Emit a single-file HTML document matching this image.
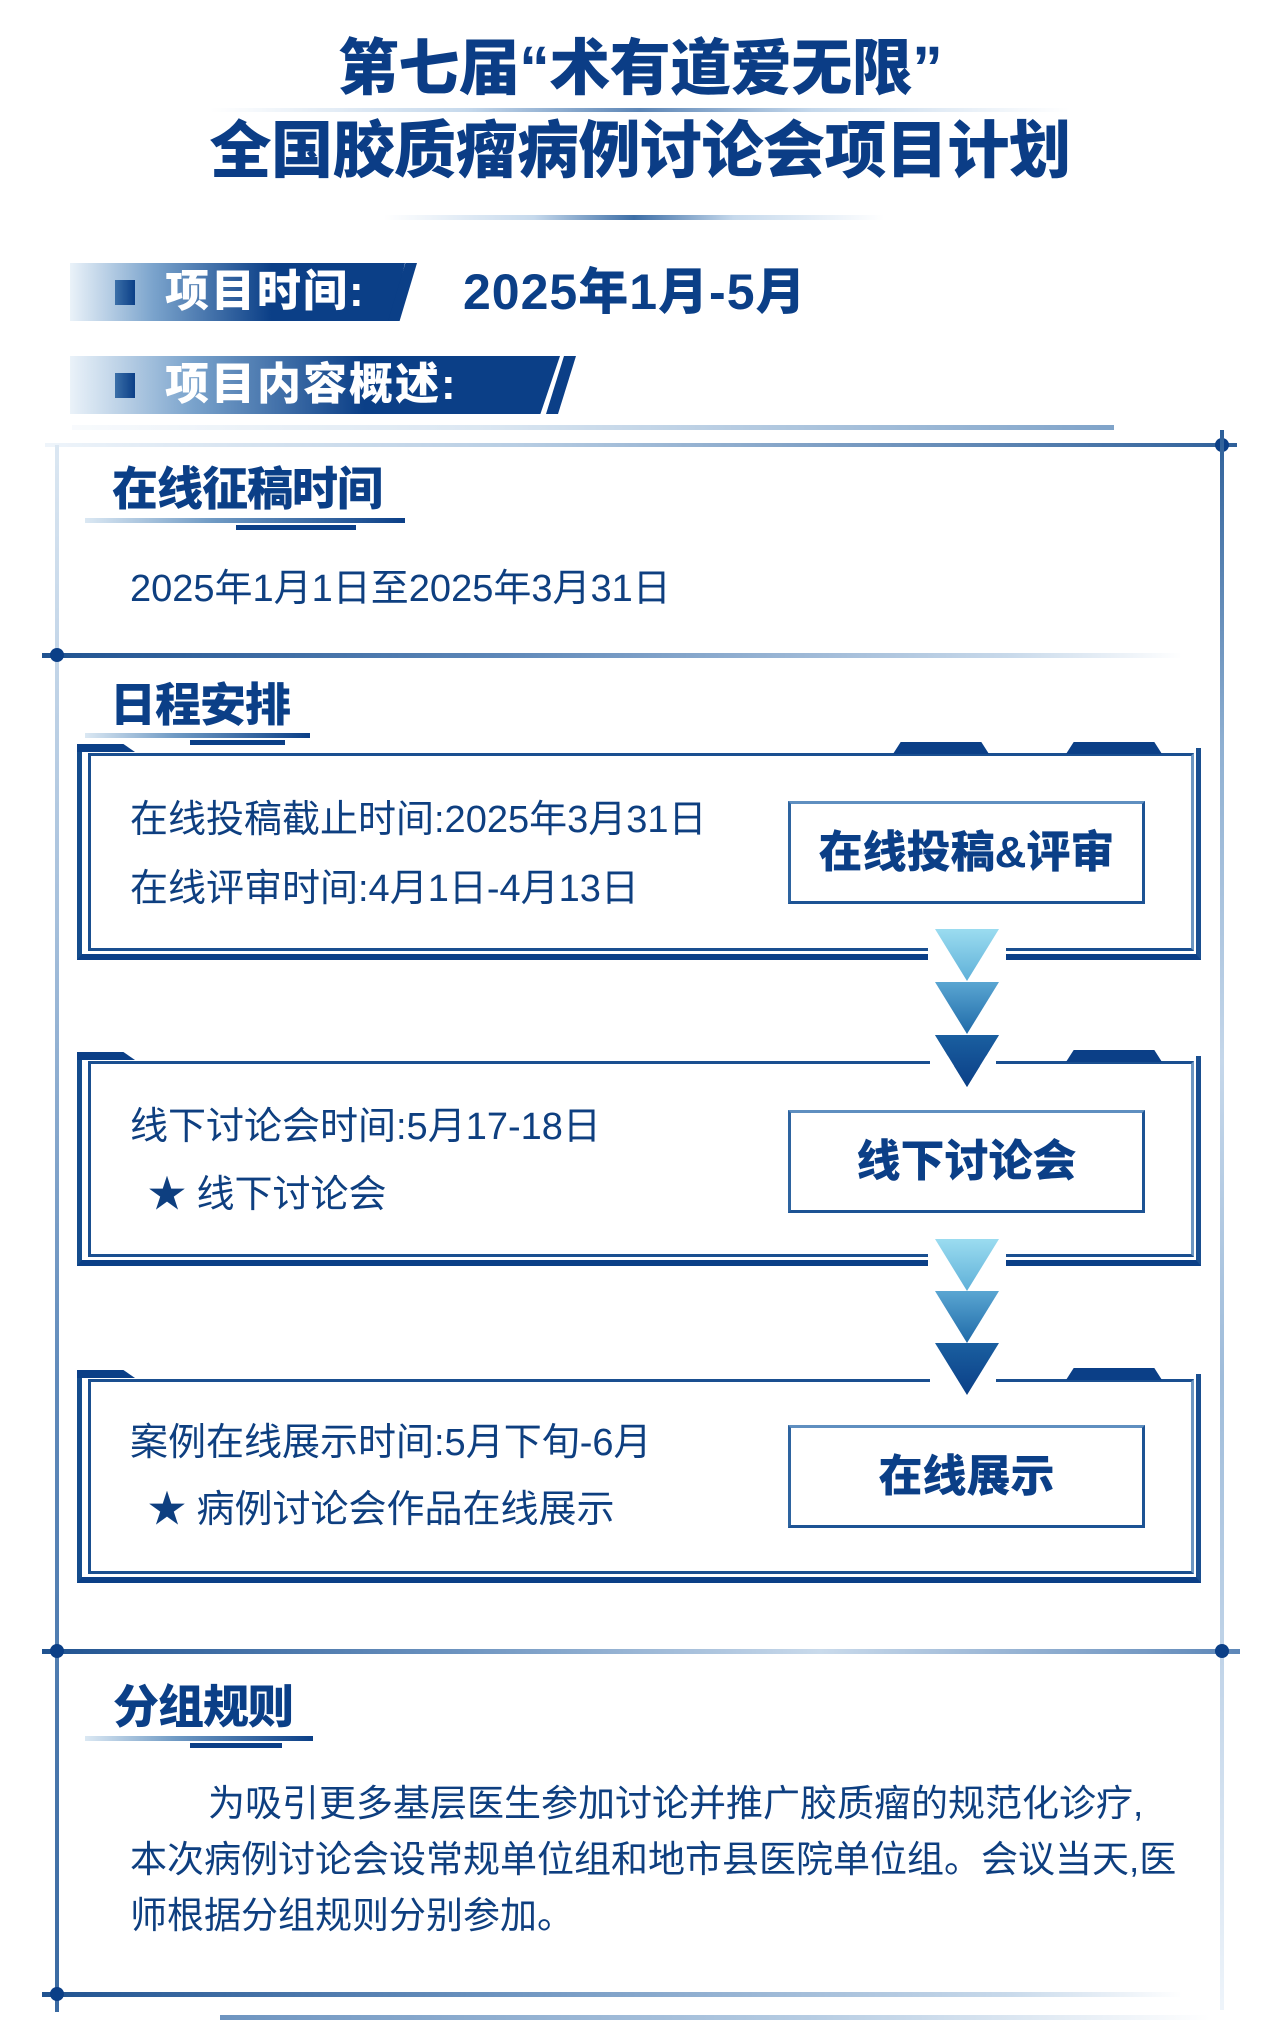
<!DOCTYPE html>
<html><head><meta charset="utf-8">
<style>
*{margin:0;padding:0;box-sizing:border-box}
html,body{width:1280px;height:2041px;background:#fff;overflow:hidden}
body{position:relative;font-family:"Liberation Sans","Noto Sans CJK SC",sans-serif;color:#0d3f82}
.a{position:absolute}
.t{white-space:nowrap;line-height:1}
.title{left:0;width:1280px;text-align:center;font-weight:900;font-size:61px;color:#0b3d86;letter-spacing:-0.5px}
.ban{height:58px;background:linear-gradient(90deg,#eaf2f9 0%,#7aa3cc 25%,#0b3f87 60%,#0b3f87 100%)}
.sq{width:20px;height:25px;background:linear-gradient(90deg,#3b6fa8,#0b3f87)}
.bt{color:#fff;font-weight:900;font-size:44px;letter-spacing:2px}
.h2{font-weight:900;font-size:46px;color:#0b3f87;letter-spacing:-1px}
.ul1{height:5px;background:linear-gradient(90deg,#dbe8f3,#6f9ac4 40%,#0b3f87)}
.ul2{height:5px;background:#0b3f87}
.body{font-size:38px;color:#0e3f80}
.frameO{border-left:5px solid #144c8c;border-bottom:6px solid #0b3f87;border-right:5px solid #1a4f90}
.frameI{border:3px solid #1a4f90;border-right-color:#6d97c2}
.tab{height:12px;background:#0b3f87;clip-path:polygon(8% 0,92% 0,100% 100%,0 100%)}
.lab{border:3px solid #1d5394;border-top-color:#5f8fc0;border-left-color:#2e64a0;background:#fff}
.labt{font-weight:900;font-size:44px;color:#0b3f87;text-align:center;width:100%;top:50%;transform:translateY(-50%)}
.tri{width:64px;height:52px;clip-path:polygon(0 0,100% 0,50% 100%)}
.dot{width:14px;height:14px;border-radius:50%;background:#0b3f87}
</style></head><body>

<!-- Title -->
<div class="a t title" style="top:38px">第七届“术有道爱无限”</div>
<div class="a" style="left:210px;top:108px;width:860px;height:4px;background:linear-gradient(90deg,rgba(200,220,240,0),#c6d9ec 30%,#5d86b6 50%,#c6d9ec 70%,rgba(200,220,240,0))"></div>
<div class="a t title" style="top:121px;font-size:62px">全国胶质瘤病例讨论会项目计划</div>
<div class="a" style="left:384px;top:215px;width:500px;height:5px;background:linear-gradient(90deg,rgba(200,220,240,0),#c6d9ec 30%,#3d6ea6 50%,#c6d9ec 70%,rgba(200,220,240,0))"></div>

<!-- Banner 1 -->
<div class="a ban" style="left:70px;top:263px;width:335px;clip-path:polygon(0 0,100% 0,96% 100%,0 100%)"></div>
<div class="a" style="left:388px;top:263px;width:29px;height:58px;background:#0b3f87;clip-path:polygon(60% 0,100% 0,40% 100%,0 100%)"></div>
<div class="a sq" style="left:115px;top:280px"></div>
<div class="a t bt" style="left:165px;top:270px">项目时间:</div>
<div class="a t" style="left:463px;top:267px;font-size:50px;font-weight:900;color:#0b3f87;letter-spacing:1px">2025年1月-5月</div>

<!-- Banner 2 -->
<div class="a ban" style="left:70px;top:356px;width:490px;clip-path:polygon(0 0,100% 0,96% 100%,0 100%)"></div>
<div class="a" style="left:546px;top:356px;width:30px;height:58px;background:#0b3f87;clip-path:polygon(60% 0,100% 0,40% 100%,0 100%)"></div>
<div class="a sq" style="left:115px;top:373px"></div>
<div class="a t bt" style="left:165px;top:363px">项目内容概述:</div>

<!-- lines -->
<div class="a" style="left:72px;top:425px;width:1042px;height:5px;background:linear-gradient(90deg,rgba(220,232,244,0.2),#dbe7f2 40%,#7fa3c9)"></div>
<div class="a" style="left:45px;top:443px;width:1192px;height:4px;background:linear-gradient(90deg,rgba(200,220,240,0.3),#b7cde3 40%,#2f609a)"></div>
<div class="a dot" style="left:1215px;top:438px"></div>
<div class="a" style="left:1220px;top:430px;width:4px;height:1580px;background:linear-gradient(180deg,#2d5f99,#8fb0d2 20%,#c5d7ea 40%,#9fbcda 60%,#c5d7ea 80%,rgba(200,220,240,0.3))"></div>
<div class="a" style="left:55px;top:445px;width:4px;height:1567px;background:linear-gradient(180deg,#dbe7f2,#a6c0dc 30%,#5f8abb 60%,#3a6aa2)"></div>

<!-- 在线征稿时间 -->
<div class="a t h2" style="left:112px;top:466px">在线征稿时间</div>
<div class="a ul1" style="left:85px;top:518px;width:320px"></div>
<div class="a ul2" style="left:236px;top:525px;width:120px"></div>
<div class="a t body" style="left:130px;top:570px">2025年1月1日至2025年3月31日</div>

<div class="a" style="left:42px;top:653px;width:1140px;height:5px;background:linear-gradient(90deg,#1f5290,#5d87b8 40%,#c9daeb 85%,rgba(220,232,244,0))"></div>
<div class="a dot" style="left:50px;top:648px"></div>

<!-- 日程安排 -->
<div class="a t h2" style="left:110px;top:682px">日程安排</div>
<div class="a ul1" style="left:85px;top:733px;width:225px"></div>
<div class="a ul2" style="left:190px;top:740px;width:95px"></div>

<!-- Box 1 -->
<div class="a frameO" style="left:77px;top:748px;width:1124px;height:212px"></div>
<div class="a frameI" style="left:88px;top:753px;width:1106px;height:198px"></div>
<div class="a" style="left:77px;top:744px;width:58px;height:8px;background:#0b3f87;clip-path:polygon(0 0,80% 0,100% 100%,0 100%)"></div>
<div class="a tab" style="left:893px;top:742px;width:96px"></div>
<div class="a tab" style="left:1066px;top:742px;width:96px"></div>
<div class="a t body" style="left:130px;top:801px">在线投稿截止时间:2025年3月31日</div>
<div class="a t body" style="left:130px;top:870px">在线评审时间:4月1日-4月13日</div>
<div class="a lab" style="left:788px;top:801px;width:357px;height:103px"><div class="a t labt">在线投稿&amp;评审</div></div>

<!-- arrows 1 -->
<div class="a" style="left:928px;top:945px;width:78px;height:20px;background:#fff"></div>
<div class="a tri" style="left:935px;top:929px;background:linear-gradient(180deg,#9bdcf0,#5fb0d8)"></div>
<div class="a tri" style="left:935px;top:982px;background:linear-gradient(180deg,#5aa6d2,#1f6aa8)"></div>
<div class="a tri" style="left:935px;top:1035px;background:linear-gradient(180deg,#1a5fa0,#0b3f87)"></div>

<!-- Box 2 -->
<div class="a frameO" style="left:77px;top:1056px;width:1124px;height:210px"></div>
<div class="a frameI" style="left:88px;top:1061px;width:1106px;height:196px"></div>
<div class="a" style="left:77px;top:1052px;width:58px;height:8px;background:#0b3f87;clip-path:polygon(0 0,80% 0,100% 100%,0 100%)"></div>
<div class="a tab" style="left:1066px;top:1050px;width:96px"></div>
<div class="a" style="left:930px;top:1056px;width:66px;height:10px;background:#fff"></div>
<div class="a tri" style="left:935px;top:1035px;background:linear-gradient(180deg,#1a5fa0,#0b3f87)"></div>
<div class="a t body" style="left:130px;top:1108px">线下讨论会时间:5月17-18日</div>
<div class="a t body" style="left:148px;top:1176px">★ 线下讨论会</div>
<div class="a lab" style="left:788px;top:1110px;width:357px;height:103px"><div class="a t labt">线下讨论会</div></div>

<!-- arrows 2 -->
<div class="a" style="left:928px;top:1252px;width:78px;height:20px;background:#fff"></div>
<div class="a tri" style="left:935px;top:1239px;background:linear-gradient(180deg,#9bdcf0,#5fb0d8)"></div>
<div class="a tri" style="left:935px;top:1291px;background:linear-gradient(180deg,#5aa6d2,#1f6aa8)"></div>

<!-- Box 3 -->
<div class="a frameO" style="left:77px;top:1374px;width:1124px;height:209px"></div>
<div class="a frameI" style="left:88px;top:1379px;width:1106px;height:195px"></div>
<div class="a" style="left:77px;top:1370px;width:58px;height:8px;background:#0b3f87;clip-path:polygon(0 0,80% 0,100% 100%,0 100%)"></div>
<div class="a tab" style="left:1066px;top:1368px;width:96px"></div>
<div class="a" style="left:930px;top:1372px;width:66px;height:10px;background:#fff"></div>
<div class="a tri" style="left:935px;top:1343px;background:linear-gradient(180deg,#1a5fa0,#0b3f87)"></div>
<div class="a t body" style="left:130px;top:1424px">案例在线展示时间:5月下旬-6月</div>
<div class="a t body" style="left:148px;top:1491px">★ 病例讨论会作品在线展示</div>
<div class="a lab" style="left:788px;top:1425px;width:357px;height:103px"><div class="a t labt">在线展示</div></div>

<!-- divider 2 -->
<div class="a" style="left:42px;top:1649px;width:1198px;height:5px;background:linear-gradient(90deg,#1f5290,#6d94c0 35%,#c9daeb 65%,#5d87b8)"></div>
<div class="a dot" style="left:50px;top:1644px"></div>
<div class="a dot" style="left:1215px;top:1644px"></div>

<!-- 分组规则 -->
<div class="a t h2" style="left:113px;top:1684px">分组规则</div>
<div class="a ul1" style="left:85px;top:1736px;width:228px"></div>
<div class="a ul2" style="left:190px;top:1743px;width:92px"></div>

<div class="a t body" style="left:130px;top:1776px;font-size:37px;line-height:56px">
<div style="padding-left:78px">为吸引更多基层医生参加讨论并推广胶质瘤的规范化诊疗,</div>
<div>本次病例讨论会设常规单位组和地市县医院单位组。会议当天,医</div>
<div>师根据分组规则分别参加。</div>
</div>

<!-- bottom -->
<div class="a" style="left:42px;top:1992px;width:1140px;height:5px;background:linear-gradient(90deg,#1f5290,#6d94c0 40%,#c9daeb 85%,rgba(220,232,244,0))"></div>
<div class="a dot" style="left:50px;top:1987px"></div>
<div class="a" style="left:220px;top:2015px;width:990px;height:5px;background:linear-gradient(90deg,#6d94c0,#b7cde3 60%,rgba(220,232,244,0))"></div>

</body></html>
